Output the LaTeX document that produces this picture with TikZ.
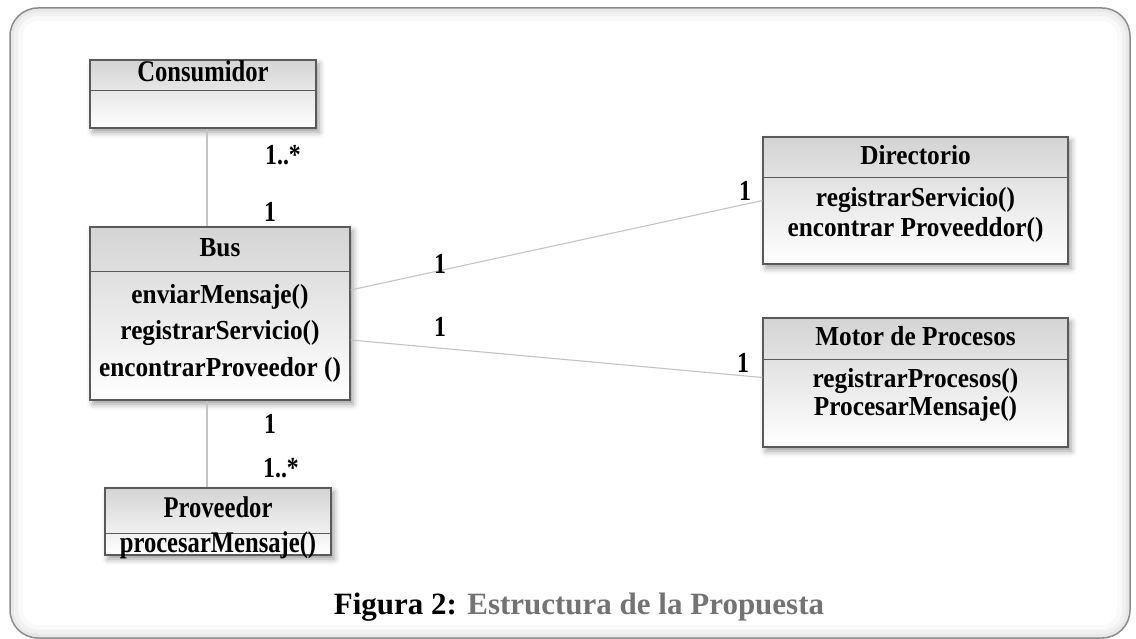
\documentclass[tikz,border=0pt]{standalone}
\usepackage{fontspec}
\setmainfont{Liberation Serif}
\newfontfamily\narrowserif{Liberation Serif}[FakeStretch=0.82]
\newfontfamily\slimserif{Liberation Serif}[FakeStretch=0.92]
\usetikzlibrary{shadows.blur}
\definecolor{frameline}{HTML}{8C8C8C}
\definecolor{boxline}{HTML}{5A5A5A}
\definecolor{connline}{HTML}{C4C4C4}
\definecolor{capgray}{HTML}{737373}
\definecolor{boxtop}{HTML}{D4D4D4}
\begin{document}
\begin{tikzpicture}[x=1pt,y=-1pt,
  classbox/.style={draw=boxline, line width=1.1pt, top color=boxtop, bottom color=white,
    inner sep=0pt,
    blur shadow={shadow xshift=3pt, shadow yshift=-4pt, shadow blur radius=6pt, shadow opacity=40}},
  txt/.style={font=\fontsize{27.5}{32}\selectfont\slimserif\bfseries, inner sep=0pt,
    text height=19pt, text depth=5pt},
  bigtxt/.style={font=\fontsize{30}{34}\selectfont\narrowserif\bfseries, inner sep=0pt,
    text height=20.7pt, text depth=5.4pt},
  lbl/.style={font=\fontsize{29}{32}\selectfont\narrowserif\bfseries, inner sep=0pt},
  conn/.style={draw=connline, line width=1.1pt},
  divider/.style={draw=boxline, line width=1pt}]

\useasboundingbox (0,0) rectangle (1136,639);

% outer frame with a soft inner glow
\begin{scope}
  \clip[rounded corners=28pt] (10,8) rectangle (1130,638);
  \foreach \w/\o in {26/0.025, 16/0.03, 8/0.04}
    \draw[black, opacity=\o, line width=\w pt, rounded corners=28pt] (10,8) rectangle (1130,638);
\end{scope}
\draw[frameline, line width=1.5pt, rounded corners=28pt] (10,8) rectangle (1130,638);

% class boxes
\node[classbox, minimum width=226, minimum height=68] (cons) at (203,94) {};
\node[classbox, minimum width=260, minimum height=173] (bus) at (220,313.5) {};
\node[classbox, minimum width=226, minimum height=67] (prov) at (218,521.5) {};
\node[classbox, minimum width=305, minimum height=127] (dir) at (915.5,200.5) {};
\node[classbox, minimum width=305, minimum height=129] (mot) at (915.5,382.5) {};

% compartment dividers
\draw[divider] (cons.west |- 0,91) -- (cons.east |- 0,91);
\draw[divider] (bus.west |- 0,272) -- (bus.east |- 0,272);
\draw[divider] (prov.west |- 0,533) -- (prov.east |- 0,533);
\draw[divider] (dir.west |- 0,178) -- (dir.east |- 0,178);
\draw[divider] (mot.west |- 0,359) -- (mot.east |- 0,359);

% class names and operations
\node[bigtxt] (consT) at (203,74) {Consumidor};

\node[txt] (busT) at (220,249.5) {Bus};
\node[txt] (busM1) at (220,297) {enviarMensaje()};
\node[txt] (busM2) at (220,332.5) {registrarServicio()};
\node[txt] (busM3) at (220,369) {encontrarProveedor ()};

\node[bigtxt] (provT) at (218,510) {Proveedor};
\node[bigtxt] (provM1) at (218,545) {procesarMensaje()};

\node[txt] (dirT) at (915.5,157.5) {Directorio};
\node[txt] (dirM1) at (915.5,199.5) {registrarServicio()};
\node[txt] (dirM2) at (915.5,230) {encontrar Proveeddor()};

\node[txt] (motT) at (915.5,338.5) {Motor de Procesos};
\node[txt] (motM1) at (915.5,380) {registrarProcesos()};
\node[txt] (motM2) at (915.5,408.5) {ProcesarMensaje()};

% associations
\draw[conn] ([xshift=4pt]cons.south) -- ([xshift=4pt]cons.south |- bus.north);
\draw[conn] ([xshift=-13pt]bus.south) -- ([xshift=-13pt]bus.south |- prov.north);
\draw[conn] ([yshift=23.5pt]bus.east) -- (dir.west);
\draw[conn] ([yshift=-26.5pt]bus.east) -- ([yshift=5pt]mot.west);

% multiplicities
\node[lbl] (m1) at (283,155) {1..*};
\node[lbl] (m2) at (270,212) {1};
\node[lbl] (m3) at (270,424) {1};
\node[lbl] (m4) at (281,468) {1..*};
\node[lbl] (m5) at (440,264) {1};
\node[lbl] (m6) at (745,191) {1};
\node[lbl] (m7) at (440,327) {1};
\node[lbl] (m8) at (743,363) {1};

% caption
\node[font=\fontsize{31}{36}\selectfont\bfseries, inner sep=0pt] (cap) at (579,607)
  {Figura 2: \textcolor{capgray}{Estructura de la Propuesta}};
\end{tikzpicture}
\end{document}
